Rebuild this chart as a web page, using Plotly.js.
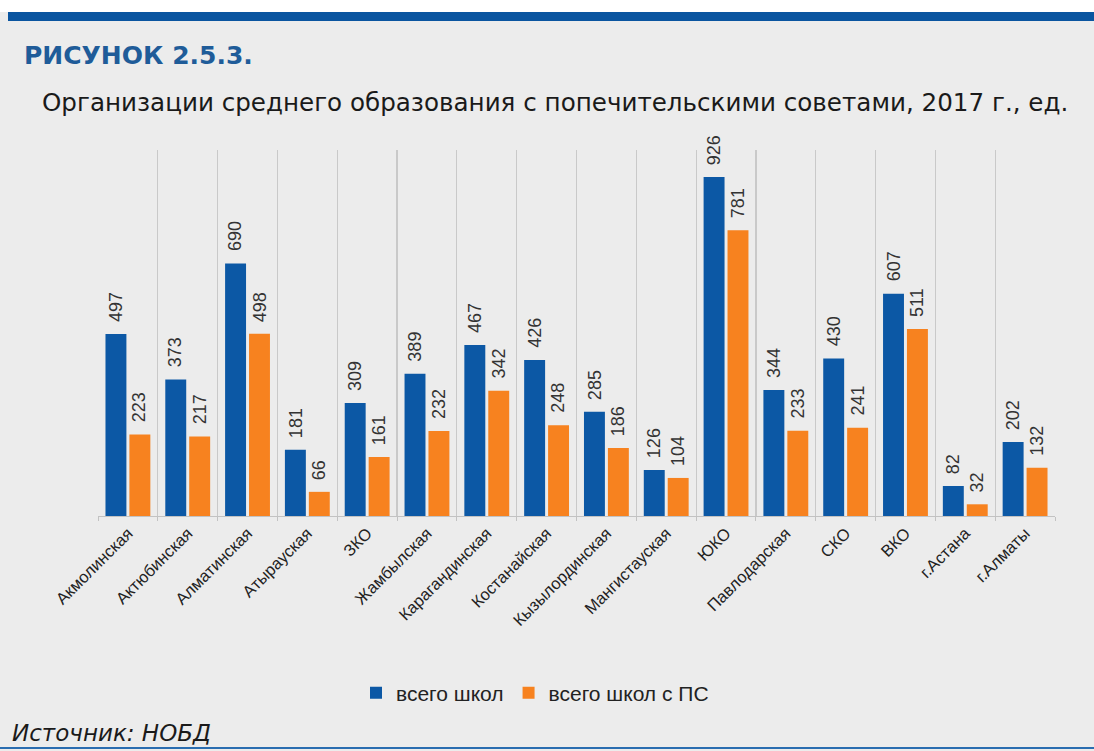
<!DOCTYPE html>
<html>
<head>
<meta charset="utf-8">
<script src="https://cdn.plot.ly/plotly-3.0.1.min.js"></script>
<style>html,body{margin:0;padding:0;background:#ececec;}</style>
</head>
<body>
<div id="chart" style="width:1094px;height:751px;"></div>
<script>
const categories = ["Акмолинская","Актюбинская","Алматинская","Атырауская","ЗКО","Жамбылская","Карагандинская","Костанайская","Кызылординская","Мангистауская","ЮКО","Павлодарская","СКО","ВКО","г.Астана","г.Алматы"];
const totalSchools = [497,373,690,181,309,389,467,426,285,126,926,344,430,607,82,202];
const schoolsWithPS = [223,217,498,66,161,232,342,248,186,104,781,233,241,511,32,132];
const seriesNames = ["всего школ","всего школ с ПС"];
const figureLabel = "РИСУНОК 2.5.3.";
const chartTitle = "Организации среднего образования с попечительскими советами, 2017 г., ед.";
const sourceText = "Источник: НОБД";

const W = 1094, H = 751;
const mL = 98, mR = 39, mT = 150, mB = 235;
const pw = W - mL - mR, ph = H - mT - mB;
const px = x => (x - mL) / pw;
const py = y => (H - mB - y) / ph;

const FONT = "Liberation Sans, Arial, sans-serif";
const WIDE = "DejaVu Sans, Liberation Sans, sans-serif";
const textCol = "#333333";
const BARGAP = 0.2, GROUPGAP = 0.125;
const offset = (1 - BARGAP) / 4; // centre of each bar within its category slot

const traces = [
  {type:"bar", name:seriesNames[0], x:categories, y:totalSchools,
   marker:{color:"#0c58a5"}, hoverinfo:"x+y"},
  {type:"bar", name:seriesNames[1], x:categories, y:schoolsWithPS,
   marker:{color:"#f7821f"}, hoverinfo:"x+y"}
];

const valueLabels = [];
[totalSchools, schoolsWithPS].forEach((vals, s) => {
  vals.forEach((v, i) => {
    valueLabels.push({xref:"x", yref:"y", x:i + (s === 0 ? -offset : offset), y:v,
      text:String(v), textangle:-90, showarrow:false, xanchor:"center", yanchor:"bottom",
      yshift:10, font:{family:FONT,size:18,color:textCol}});
  });
});

const layout = {
  width:W, height:H,
  margin:{l:mL,r:mR,t:mT,b:mB,pad:0},
  paper_bgcolor:"#ececec", plot_bgcolor:"#ececec",
  font:{family:FONT,color:textCol},
  barmode:"group", bargap:BARGAP, bargroupgap:GROUPGAP,
  xaxis:{type:"category", tickson:"boundaries", showgrid:true, gridcolor:"#c9c9c9", gridwidth:1.2,
         showline:true, linecolor:"#c2c2c2", linewidth:1.2, ticks:"outside", ticklen:4, tickcolor:"#c2c2c2",
         tickangle:-45, tickfont:{family:FONT,size:16.5,color:"#222"}, fixedrange:true},
  yaxis:{range:[0,1000], showgrid:false, zeroline:false, showticklabels:false, showline:false, ticks:"", fixedrange:true},
  showlegend:true,
  legend:{orientation:"h", x:px(356), xanchor:"left", y:py(693), yanchor:"middle",
          font:{family:FONT,size:21,color:"#222"}, bgcolor:"rgba(0,0,0,0)", traceorder:"normal"},
  shapes:[
    {type:"rect", xref:"paper", yref:"paper", x0:px(0), x1:px(W), y0:py(12), y1:py(0), fillcolor:"#ffffff", line:{width:0}, layer:"below"},
    {type:"rect", xref:"paper", yref:"paper", x0:px(8), x1:px(W), y0:py(21), y1:py(12), fillcolor:"#0a55a0", line:{width:0}},
    {type:"line", xref:"paper", yref:"paper", x0:px(0), x1:px(W), y0:py(748), y1:py(748), line:{color:"#2a6db0", width:2}}
  ],
  annotations:[
    {xref:"paper", yref:"paper", x:px(22), y:py(56), xanchor:"left", yanchor:"middle", showarrow:false,
     text:"<b>"+figureLabel+"</b>", font:{family:WIDE,size:25,color:"#1f5c99"}},
    {xref:"paper", yref:"paper", x:px(555), y:py(103), xanchor:"center", yanchor:"middle", showarrow:false,
     text:chartTitle, font:{family:WIDE,size:24.6,color:"#1a1a1a"}},
    {xref:"paper", yref:"paper", x:px(10), y:py(733), xanchor:"left", yanchor:"middle", showarrow:false,
     text:"<i>"+sourceText+"</i>", font:{family:WIDE,size:23,color:"#1a1a1a"}}
  ].concat(valueLabels)
};

Plotly.newPlot("chart", traces, layout, {displayModeBar:false, staticPlot:true});
</script>
</body>
</html>
